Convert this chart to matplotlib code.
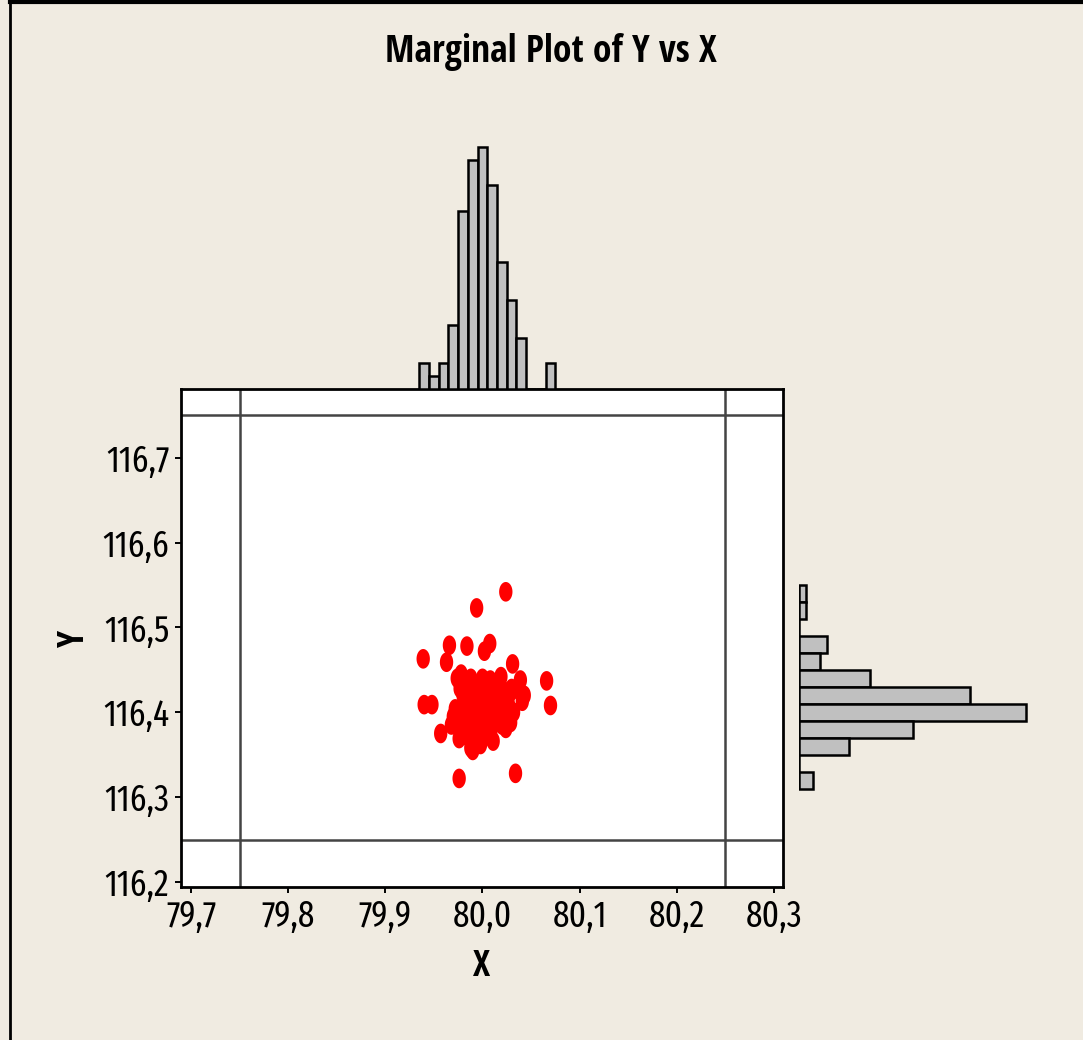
import numpy as np
import matplotlib
matplotlib.use("Agg")
import matplotlib.pyplot as plt
from matplotlib.lines import Line2D
from matplotlib.ticker import FuncFormatter

tick_font = ["Fira Sans Extra Condensed", "DejaVu Sans"]
bold_font = ["Open Sans Condensed", "DejaVu Sans"]
plt.rcParams["font.family"] = tick_font

# measurements
x_vals = [
    79.939, 79.940,
    79.948,
    79.957, 79.963,
    79.966, 79.968, 79.970, 79.972, 79.974,
    79.976, 79.976, 79.984, 79.978, 79.977, 79.980, 79.982, 79.979, 79.983,
    79.981, 79.978, 79.984, 79.982, 79.980,
    79.994, 79.988, 79.990, 79.987, 79.993, 79.989, 79.992, 79.991, 79.988,
    79.990, 79.993, 79.987, 79.991, 79.989, 79.992, 79.988, 79.986, 79.990,
    79.998, 80.000, 80.002, 79.997, 80.001, 79.999, 80.003, 80.000, 79.996,
    80.002, 79.998, 80.001, 80.004, 79.999, 80.003, 79.997, 80.000, 80.002, 79.998,
    80.0075, 80.008, 80.012, 80.010, 80.006, 80.013, 80.009, 80.011, 80.007,
    80.014, 80.010, 80.008, 80.012, 80.009, 80.011, 80.013,
    80.024, 80.019, 80.022, 80.017, 80.021, 80.018, 80.024, 80.020, 80.024, 80.016,
    80.031, 80.034, 80.028, 80.030, 80.027, 80.032, 80.029,
    80.039, 80.043, 80.038, 80.041,
    80.066, 80.070,
]
y_vals = [
    116.463, 116.409,
    116.409,
    116.375, 116.459,
    116.479, 116.385, 116.395, 116.404, 116.440,
    116.322, 116.369, 116.478, 116.445, 116.428, 116.420, 116.414, 116.400, 116.395,
    116.388, 116.380, 116.372, 116.436, 116.405,
    116.523, 116.440, 116.355, 116.426, 116.420, 116.414, 116.408, 116.404, 116.400,
    116.396, 116.392, 116.386, 116.380, 116.375, 116.365, 116.358, 116.402, 116.418,
    116.362, 116.440, 116.397, 116.428, 116.422, 116.416, 116.412, 116.408, 116.405,
    116.401, 116.398, 116.394, 116.391, 116.386, 116.382, 116.377, 116.368, 116.472, 116.403,
    116.481, 116.438, 116.432, 116.428, 116.424, 116.418, 116.413, 116.409, 116.405,
    116.400, 116.396, 116.392, 116.388, 116.380, 116.366, 116.421,
    116.542, 116.442, 116.425, 116.415, 116.406, 116.398, 116.395, 116.385, 116.381, 116.420,
    116.457, 116.328, 116.422, 116.428, 116.408, 116.400, 116.388,
    116.438, 116.420, 116.425, 116.413,
    116.437, 116.408,
]

# marginal histogram counts
x_bin_centers = [79.94, 79.95, 79.96, 79.97, 79.98, 79.99, 80.00,
                 80.01, 80.02, 80.03, 80.04, 80.05, 80.06, 80.07]
x_counts = [2, 1, 2, 5, 14, 18, 19, 16, 10, 7, 4, 0, 0, 2]
y_bin_centers = [116.54, 116.52, 116.50, 116.48, 116.46, 116.44,
                 116.42, 116.40, 116.38, 116.36, 116.34, 116.32]
y_counts = [1, 1, 0, 4, 3, 10, 24, 32, 16, 7, 0, 2]

x_ticks = [79.7, 79.8, 79.9, 80.0, 80.1, 80.2, 80.3]
y_ticks = [116.2, 116.3, 116.4, 116.5, 116.6, 116.7]
x_refs = [79.75, 80.25]
y_refs = [116.25, 116.75]

bg = "#F0EBE1"
bar_fill = "#C0C0C0"
ref_color = "#444444"

fig = plt.figure(figsize=(10.83, 10.40), dpi=100, facecolor=bg)

ax = fig.add_axes([0.1671, 0.1471, 0.5559, 0.4788])
ax_top = fig.add_axes([0.1671, 0.6260, 0.5559, 0.2413], sharex=ax)
ax_right = fig.add_axes([0.7378, 0.1471, 0.2225, 0.4788], sharey=ax)

xlim = (79.6897, 80.3093)
ylim = (116.194, 116.781)

# ellipse-shaped marker
t = np.linspace(0, 2 * np.pi, 64)
ellipse = np.column_stack([0.68 * np.cos(t), np.sin(t)])

ax.scatter(x_vals, y_vals, s=200, marker=ellipse, c="#FF0000",
           edgecolors="none", zorder=3)
for xr in x_refs:
    ax.axvline(xr, color=ref_color, lw=1.8, zorder=2)
for yr in y_refs:
    ax.axhline(yr, color=ref_color, lw=1.8, zorder=2)

ax.set_xlim(*xlim)
ax.set_ylim(*ylim)
ax.set_xticks(x_ticks)
ax.set_yticks(y_ticks)
comma = FuncFormatter(lambda v, p: f"{v:.1f}".replace(".", ","))
ax.xaxis.set_major_formatter(comma)
ax.yaxis.set_major_formatter(comma)
ax.tick_params(direction="out", length=4.5, width=1.4, labelsize=26, pad=4)
for sp in ax.spines.values():
    sp.set_linewidth(2)
ax.set_xlabel("X", fontsize=26, fontweight="bold", family=bold_font)
ax.set_ylabel("Y", fontsize=26, fontweight="bold", family=bold_font)
ax.xaxis.set_label_coords(0.5, -0.125)
ax.yaxis.set_label_coords(-0.146, 0.5)

# top marginal histogram
ax_top.bar(x_bin_centers, x_counts, width=0.01, color=bar_fill,
           edgecolor="black", linewidth=1.8)
ax_top.set_ylim(0, 19.7)
ax_top.axis("off")

# right marginal histogram
ax_right.barh(y_bin_centers, y_counts, height=0.02, color=bar_fill,
              edgecolor="black", linewidth=1.8)
ax_right.set_xlim(0, 33.9)
ax_right.axis("off")

fig.text(0.509, 0.95, "Marginal Plot of Y vs X", ha="center", va="center",
         fontsize=27, fontweight="bold", family=bold_font)

# outer frame
fig.add_artist(Line2D([0.0092, 0.0092], [0, 0.998], transform=fig.transFigure,
                      color="black", lw=2))
fig.add_artist(Line2D([0.0092, 1], [0.998, 0.998], transform=fig.transFigure,
                      color="black", lw=3))

fig.savefig("out.png", dpi=100, facecolor=bg)
